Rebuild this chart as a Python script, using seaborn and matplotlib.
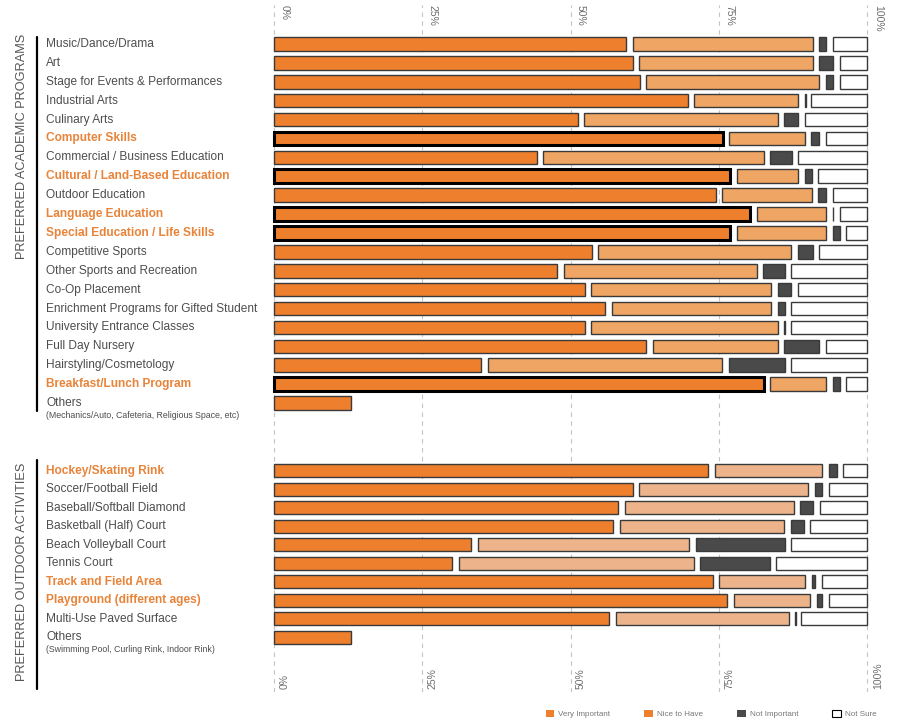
import numpy as np
import matplotlib
matplotlib.use("Agg")
import matplotlib.pyplot as plt
import matplotlib.transforms as mtransforms
from matplotlib.patches import Patch
from matplotlib.lines import Line2D
import seaborn as sns

sns.set_style("white")
plt.rcParams['font.family'] = ['Liberation Sans', 'DejaVu Sans']

# --- Data (percent of respondents) ---
academic_labels = ['Music/Dance/Drama', 'Art', 'Stage for Events & Performances', 'Industrial Arts',
                   'Culinary Arts', 'Computer Skills', 'Commercial / Business Education',
                   'Cultural / Land-Based Education', 'Outdoor Education', 'Language Education',
                   'Special Education / Life Skills', 'Competitive Sports', 'Other Sports and Recreation',
                   'Co-Op Placement', 'Enrichment Programs for Gifted Student', 'University Entrance Classes',
                   'Full Day Nursery', 'Hairstyling/Cosmetology', 'Breakfast/Lunch Program', 'Others']
academic_note = '(Mechanics/Auto, Cafeteria, Religious Space, etc)'
academic_highlight = ['Computer Skills', 'Cultural / Land-Based Education', 'Language Education',
                      'Special Education / Life Skills', 'Breakfast/Lunch Program']
academic_vi = [59.9, 61.0, 62.2, 70.3, 51.7, 76.2, 44.8, 77.4, 75.0, 80.8, 77.4, 54.1, 48.3, 52.9, 56.4, 52.9, 63.3, 35.5, 83.1, 12.9]
academic_nh = [31.4, 30.3, 30.2, 18.6, 33.7, 13.8, 38.3, 11.5, 16.2, 12.8, 16.2, 33.6, 33.6, 31.4, 27.9, 32.5, 22.1, 40.6, 10.5, 0]
academic_ni = [2.3, 3.5, 2.4, 1.1, 3.5, 2.4, 4.7, 2.3, 2.4, 1.2, 2.3, 3.6, 4.7, 3.4, 2.3, 1.2, 7.0, 10.5, 2.3, 0]
academic_ns = [6.4, 5.2, 5.2, 10.0, 11.1, 7.6, 12.2, 8.8, 6.4, 5.2, 4.1, 8.7, 13.4, 12.3, 13.4, 13.4, 7.6, 13.4, 4.1, 0]

outdoor_labels = ['Hockey/Skating Rink', 'Soccer/Football Field', 'Baseball/Softball Diamond',
                  'Basketball (Half) Court', 'Beach Volleyball Court', 'Tennis Court',
                  'Track and Field Area', 'Playground (different ages)', 'Multi-Use Paved Surface', 'Others']
outdoor_note = '(Swimming Pool, Curling Rink, Indoor Rink)'
outdoor_highlight = ['Hockey/Skating Rink', 'Track and Field Area', 'Playground (different ages)']
outdoor_vi = [73.7, 61.0, 58.6, 57.7, 33.8, 30.6, 74.5, 76.9, 57.0, 12.9]
outdoor_nh = [19.2, 29.6, 29.5, 28.8, 36.7, 40.7, 15.6, 14.0, 30.3, 0]
outdoor_ni = [2.5, 2.3, 3.3, 3.3, 16.1, 12.8, 1.7, 2.0, 0.9, 0]
outdoor_ns = [4.6, 7.1, 8.6, 10.2, 13.4, 15.9, 8.2, 7.1, 11.8, 0]

pct_ticks = [0, 25, 50, 75, 100]
legend_labels = ['Very Important', 'Nice to Have', 'Not Important', 'Not Sure']

# --- Style ---
ORANGE = '#EE7F2D'
LIGHT_ACAD = '#EFA563'
LIGHT_OUT = '#EDB48C'
DARK = '#4A4A4A'
EDGE = '#3A3A3A'
LABEL_ORANGE = '#E8843A'
TEXT = '#4D4D4D'
GAP = 1.1

W_PX, H_PX = 897, 721
fig = plt.figure(figsize=(W_PX / 100, H_PX / 100), dpi=100)

def fx(px):
    return px / W_PX

def fy(px):
    return 1 - px / H_PX

x_left, x_width = fx(272.2), fx(597)
xlim = (-0.3, 100.3)

# background axis: dashed grid lines + tick labels
ax_bg = fig.add_axes([x_left, fy(692), x_width, fy(5) - fy(692)], zorder=0)
ax_bg.set_xlim(*xlim)
ax_bg.set_ylim(0, 1)
ax_bg.axis('off')
for t in pct_ticks:
    ax_bg.axvline(t, color='#C4C4C4', lw=0.8, ls=(0, (4, 4)))
    ax_bg.text(t + 0.9, 1, f'{t}%', rotation=270, ha='left', va='top', fontsize=7.5, color='#6E6E6E')
    ax_bg.text(t + 0.9, 0.005, f'{t}%', rotation=90, ha='left', va='bottom', fontsize=7.5, color='#6E6E6E')


def draw_group(ax, labels, vi, nh, ni, ns, light, highlight, note, thick):
    n = len(labels)
    y = np.arange(n)
    series = [vi, nh, ni, ns]
    colors = [ORANGE, light, DARK, 'white']
    data = np.array(series, dtype=float)
    for i in range(n):
        left = 0.0
        vals = data[:, i]
        for k, v in enumerate(vals):
            if v <= 0:
                continue
            start = left + (GAP / 2 if k > 0 else 0)
            end = left + v - (GAP / 2 if vals[k + 1:].sum() > 0 else 0)
            width = max(end - start, 0.12)
            is_hl = thick and k == 0 and labels[i] in highlight
            ax.barh(y[i], width, left=start, height=0.72, color=colors[k],
                    edgecolor='black' if is_hl else EDGE, linewidth=2.2 if is_hl else 1.0, zorder=2)
            left += v
    ax.set_xlim(*xlim)
    ax.set_ylim(n - 0.5, -0.5)
    ax.axis('off')

    trans = mtransforms.blended_transform_factory(fig.transFigure, ax.transData)
    for i, lab in enumerate(labels):
        hl = lab in highlight
        ax.text(fx(46), y[i], lab, transform=trans, ha='left', va='center',
                fontsize=8.6, color=LABEL_ORANGE if hl else TEXT,
                fontweight='bold' if hl else 'normal')
    ax.text(fx(46), y[-1] + 0.68, note, transform=trans, ha='left', va='center',
            fontsize=6.3, color=TEXT)


ax_top = fig.add_axes([x_left, fy(412.5), x_width, fy(34.5) - fy(412.5)], zorder=1)
ax_top.patch.set_alpha(0)
draw_group(ax_top, academic_labels, academic_vi, academic_nh, academic_ni, academic_ns,
           LIGHT_ACAD, academic_highlight, academic_note, thick=True)

ax_bot = fig.add_axes([x_left, fy(646.5), x_width, fy(461.5) - fy(646.5)], zorder=1)
ax_bot.patch.set_alpha(0)
draw_group(ax_bot, outdoor_labels, outdoor_vi, outdoor_nh, outdoor_ni, outdoor_ns,
           LIGHT_OUT, outdoor_highlight, outdoor_note, thick=False)

# section titles and brackets
fig.text(fx(22), fy(146), 'PREFERRED ACADEMIC PROGRAMS', rotation=90, ha='center', va='center',
         fontsize=9.2, color='#555555')
fig.text(fx(22), fy(572), 'PREFERRED OUTDOOR ACTIVITIES', rotation=90, ha='center', va='center',
         fontsize=9.2, color='#555555')
fig.add_artist(Line2D([fx(37), fx(37)], [fy(37), fy(411)], color='black', lw=1.6))
fig.add_artist(Line2D([fx(37), fx(37)], [fy(460), fy(689)], color='black', lw=1.6))

# legend
handles = [Patch(facecolor=ORANGE, edgecolor='none'),
           Patch(facecolor=ORANGE, edgecolor='none'),
           Patch(facecolor=DARK, edgecolor='none'),
           Patch(facecolor='white', edgecolor='black', linewidth=0.8)]
fig.legend(handles, legend_labels, loc='center right', bbox_to_anchor=(fx(884), fy(714)),
           ncol=4, frameon=False, fontsize=5.8, handlelength=1.1, handleheight=1.1,
           handletextpad=0.5, columnspacing=4.2, labelcolor='#777777')

fig.savefig('out.png', dpi=100)
